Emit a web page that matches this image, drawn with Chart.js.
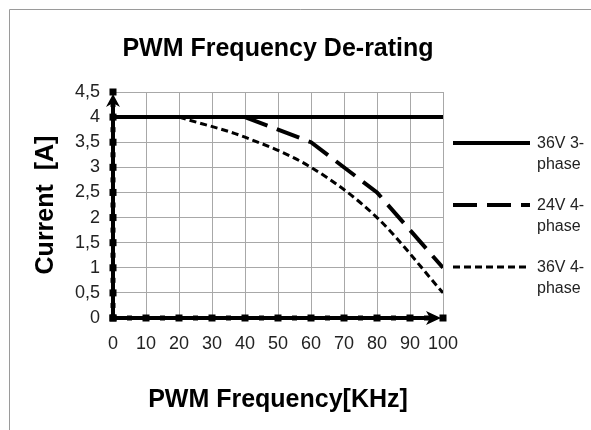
<!DOCTYPE html>
<html>
<head>
<meta charset="utf-8">
<script src="https://cdn.jsdelivr.net/npm/chart.js@4.4.1/dist/chart.umd.min.js"></script>
<style>
html,body{margin:0;padding:0;background:#fff;}
#wrap{position:relative;width:591px;height:430px;}
</style>
</head>
<body>
<div id="wrap"><canvas id="c" width="591" height="430"></canvas></div>
<script>
// ---- data ----
const chartTitle = "PWM Frequency De-rating";
const xTitle = "PWM Frequency[KHz]";
const yTitle = "Current  [A]";
const seriesNames = ["36V 3-phase", "24V 4-phase", "36V 4-phase"];
const legendLines = [["36V 3-", "phase"], ["24V 4-", "phase"], ["36V 4-", "phase"]];
const freq36v3 = [0, 100];
const current36v3 = [4, 4];
const freq24v4 = [40, 60, 80, 100];
const current24v4 = [4, 3.5, 2.5, 1.0];
const freq36v4 = [20, 40, 60, 80, 100];
const current36v4 = [4, 3.6, 3.0, 2.0, 0.5];
const xMin = 0, xMax = 100, xStep = 10;
const yMin = 0, yMax = 4.5, yStep = 0.5;

const toPts = (xs, ys) => xs.map((x, i) => ({x: x, y: ys[i]}));
const FONT = "'Liberation Sans', Arial, sans-serif";

const framePlugin = {
  id: 'frame',
  beforeDraw(chart) {
    const ctx = chart.ctx;
    ctx.save();
    ctx.fillStyle = '#fff';
    ctx.fillRect(0, 0, chart.width, chart.height);
    ctx.strokeStyle = '#9a9a9a';
    ctx.lineWidth = 1;
    ctx.beginPath();
    ctx.moveTo(9.5, chart.height);
    ctx.lineTo(9.5, 9.5);
    ctx.lineTo(chart.width, 9.5);
    ctx.stroke();
    ctx.restore();
  }
};

const axesPlugin = {
  id: 'axesArrows',
  afterDatasetsDraw(chart) {
    const ctx = chart.ctx;
    const xs = chart.scales.x, ys = chart.scales.y;
    const x0 = xs.getPixelForValue(xMin), x1 = xs.getPixelForValue(xMax);
    const y0 = ys.getPixelForValue(yMin), y1 = ys.getPixelForValue(yMax);
    ctx.save();
    ctx.fillStyle = '#000';
    ctx.strokeStyle = '#000';
    ctx.lineWidth = 4;
    ctx.lineCap = 'butt';
    ctx.beginPath();
    ctx.moveTo(x0, y0);
    ctx.lineTo(x0, y1 + 6);
    ctx.moveTo(x0 - 2, y0);
    ctx.lineTo(x1 - 6, y0);
    ctx.stroke();
    // arrow heads
    ctx.beginPath();
    ctx.moveTo(x0, y1 + 2);
    ctx.lineTo(x0 - 7, y1 + 15);
    ctx.lineTo(x0, y1 + 11);
    ctx.lineTo(x0 + 7, y1 + 15);
    ctx.closePath();
    ctx.fill();
    ctx.beginPath();
    ctx.moveTo(x1 - 2, y0);
    ctx.lineTo(x1 - 17, y0 - 7);
    ctx.lineTo(x1 - 13, y0);
    ctx.lineTo(x1 - 17, y0 + 7);
    ctx.closePath();
    ctx.fill();
    // square markers on axes
    for (let v = yMin; v <= yMax + 1e-9; v += yStep / 2) {
      const py = ys.getPixelForValue(v);
      const major = Math.abs(v / yStep - Math.round(v / yStep)) < 1e-6;
      const s = major ? 7 : 5;
      ctx.fillRect(x0 - s / 2, py - s / 2, s, s);
    }
    for (let v = xMin; v <= xMax + 1e-9; v += xStep / 2) {
      const px = xs.getPixelForValue(v);
      const major = Math.abs(v / xStep - Math.round(v / xStep)) < 1e-6;
      const s = major ? 7 : 5;
      ctx.fillRect(px - s / 2, y0 - s / 2, s, s);
    }
    ctx.restore();
  }
};

const legendPlugin = {
  id: 'sideLegend',
  afterDraw(chart) {
    const ctx = chart.ctx;
    const rowsY = [143, 205, 267];
    const lx0 = 453, lx1 = 530, tx = 537;
    ctx.save();
    chart.data.datasets.forEach((ds, i) => {
      const y = rowsY[i];
      ctx.strokeStyle = ds.borderColor;
      ctx.lineWidth = ds.borderWidth;
      ctx.setLineDash(ds.borderDash || []);
      ctx.beginPath();
      ctx.moveTo(lx0, y);
      ctx.lineTo(lx1, y);
      ctx.stroke();
      ctx.setLineDash([]);
      ctx.fillStyle = '#222';
      ctx.font = "16px " + FONT;
      ctx.textBaseline = 'middle';
      ctx.textAlign = 'left';
      legendLines[i].forEach((t, j) => ctx.fillText(t, tx, y + 1 + j * 21));
    });
    ctx.restore();
  }
};

new Chart(document.getElementById('c'), {
  type: 'line',
  data: {
    datasets: [
      {label: seriesNames[0], data: toPts(freq36v3, current36v3), borderColor: '#000', borderWidth: 4, pointRadius: 0, fill: false},
      {label: seriesNames[1], data: toPts(freq24v4, current24v4), borderColor: '#000', borderWidth: 4, borderDash: [24, 10], pointRadius: 0, fill: false},
      {label: seriesNames[2], data: toPts(freq36v4, current36v4), borderColor: '#000', borderWidth: 3, borderDash: [7, 4], pointRadius: 0, fill: false, cubicInterpolationMode: 'monotone'}
    ]
  },
  options: {
    responsive: false,
    animation: false,
    layout: {padding: {left: 10, right: 148, top: 0, bottom: 10}},
    plugins: {
      legend: {display: false},
      tooltip: {enabled: false},
      title: {display: true, fullSize: false, text: chartTitle, color: '#000', font: {family: FONT, size: 25, weight: 'bold'}, padding: {top: 34, bottom: 28}}
    },
    scales: {
      x: {
        type: 'linear', min: xMin, max: xMax,
        border: {display: false},
        grid: {color: '#a8a8a8', lineWidth: 1, drawTicks: false},
        ticks: {stepSize: xStep, color: '#222', font: {family: FONT, size: 18}, padding: 15, maxRotation: 0, autoSkip: false},
        title: {display: true, text: xTitle, color: '#000', font: {family: FONT, size: 25, weight: 'bold'}, padding: {top: 0, bottom: 5}},
        afterFit(scale) { scale.height = 102; }
      },
      y: {
        type: 'linear', min: yMin, max: yMax,
        border: {display: false},
        grid: {color: '#a8a8a8', lineWidth: 1, drawTicks: false},
        ticks: {stepSize: yStep, color: '#222', font: {family: FONT, size: 18}, padding: 13, autoSkip: false,
          callback: v => String(v).replace('.', ',')},
        title: {display: true, text: yTitle, color: '#000', font: {family: FONT, size: 25, weight: 'bold'}, padding: {top: 21, bottom: 0}},
        afterFit(scale) { scale.width = 103; }
      }
    }
  },
  plugins: [framePlugin, axesPlugin, legendPlugin]
});
</script>
</body>
</html>
